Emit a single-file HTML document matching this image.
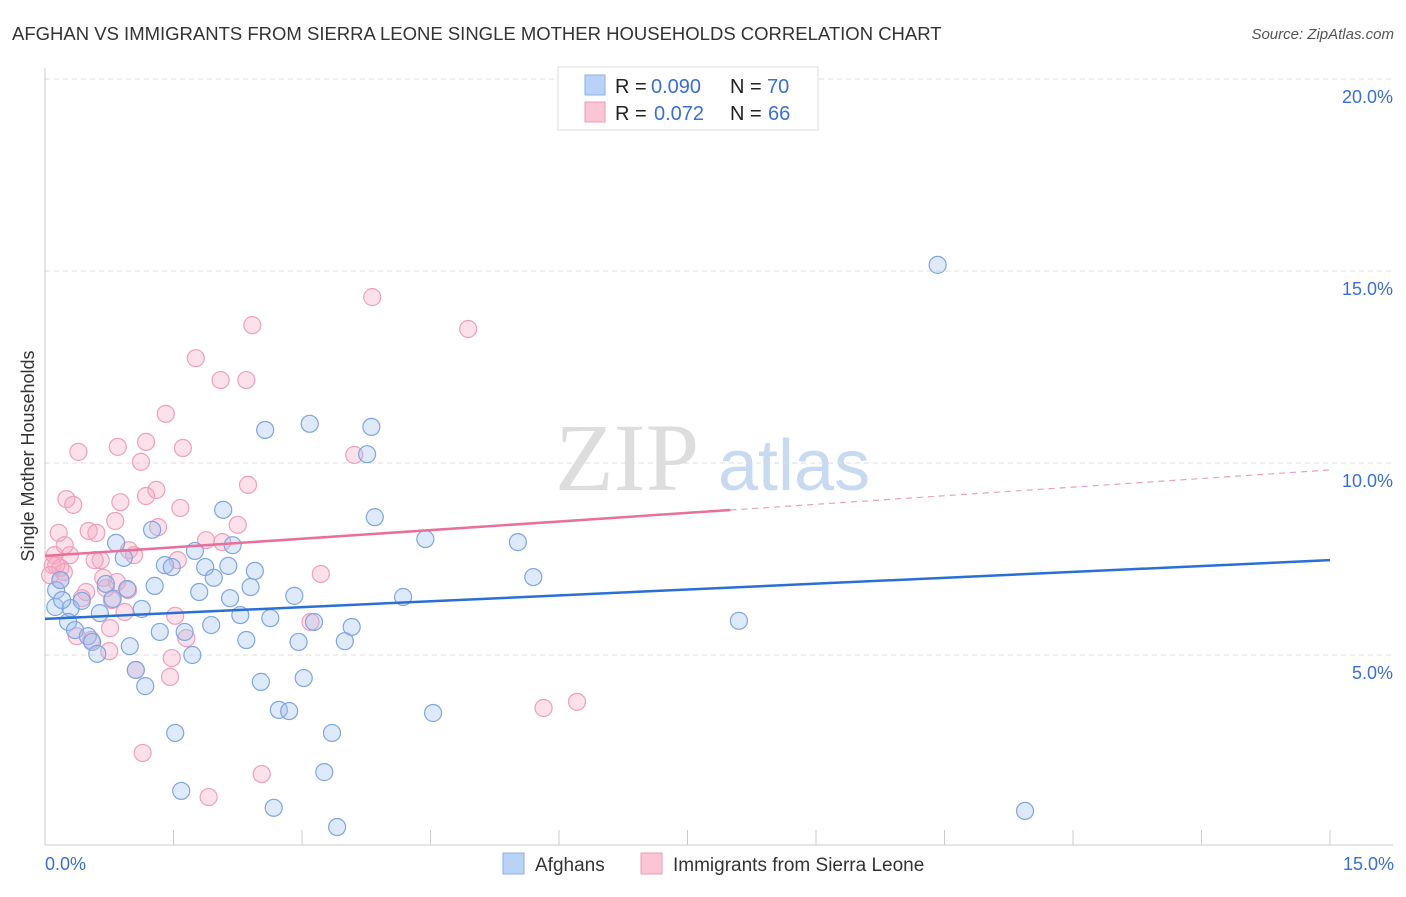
<!DOCTYPE html>
<html><head><meta charset="utf-8"><style>
body{margin:0;background:#fff;font-family:"Liberation Sans",sans-serif;}
svg text{font-family:"Liberation Sans",sans-serif;}
</style></head><body>
<svg id="chart" width="1406" height="892" xmlns="http://www.w3.org/2000/svg">
<text x="12" y="40" font-size="18.5" fill="#333">AFGHAN VS IMMIGRANTS FROM SIERRA LEONE SINGLE MOTHER HOUSEHOLDS CORRELATION CHART</text>
<text x="1394" y="39" font-size="15" fill="#555" text-anchor="end" font-style="italic">Source: ZipAtlas.com</text>
<text x="555" y="490" font-size="96" fill="#ddd" font-family="Liberation Serif" style="font-family:'Liberation Serif',serif">ZIP</text>
<text x="718" y="490" font-size="72" fill="#c8daf0">atlas</text>
<text transform="translate(34,456) rotate(-90)" font-size="18" fill="#333" text-anchor="middle">Single Mother Households</text>
<g id="grid"></g><g id="marks"></g><g id="trends"></g>
<g>
<rect x="558" y="67" width="260" height="63" fill="#fff" stroke="#ddd"/>
<rect x="585" y="75" width="20" height="20" fill="#b9d2f6" stroke="#8ab0e8"/>
<rect x="585" y="102" width="20" height="20" fill="#fac5d4" stroke="#ee9db7"/>
<text x="615" y="93" font-size="20" fill="#222">R =</text>
<text x="651" y="93" font-size="20" fill="#3a6fd0">0.090</text>
<text x="730" y="93" font-size="20" fill="#222">N =</text>
<text x="767" y="93" font-size="20" fill="#3a6fd0">70</text>
<text x="615" y="120" font-size="20" fill="#222">R =</text>
<text x="654" y="120" font-size="20" fill="#3a6fd0">0.072</text>
<text x="730" y="120" font-size="20" fill="#222">N =</text>
<text x="768" y="120" font-size="20" fill="#3a6fd0">66</text>
</g>
<g>
<rect x="503" y="853" width="21" height="21" fill="#b9d2f6" stroke="#8ab0e8"/>
<text x="535" y="871" font-size="19" fill="#333">Afghans</text>
<rect x="641" y="853" width="21" height="21" fill="#fac5d4" stroke="#ee9db7"/>
<text x="673" y="871" font-size="19" fill="#333">Immigrants from Sierra Leone</text>
</g>
<text x="45" y="870" font-size="18" fill="#3a6fd0">0.0%</text>
<text x="1394" y="870" font-size="18" fill="#3a6fd0" text-anchor="end">15.0%</text>
</svg>
<script>
const yTicks=[5,10,15,20];
const yTickLabels=["5.0%","10.0%","15.0%","20.0%"];
const blueX=[10.42,3.09,3.81,2.57,3.76,3.85,2.08,1.25,4.44,5.52,0.83,2.19,1.75,0.92,1.40,1.48,1.87,2.45,2.14,5.70,1.97,1.28,0.96,0.71,1.80,2.40,0.13,0.12,0.30,0.43,0.79,2.16,2.91,4.18,1.13,2.28,0.64,2.63,0.27,1.94,1.34,1.63,0.35,3.58,3.14,8.10,0.50,0.55,2.35,2.96,3.50,0.99,0.61,1.72,1.06,1.17,2.52,3.02,2.73,2.85,4.53,1.52,3.35,3.26,1.59,2.67,3.41,11.44,0.18,0.20];
const blueY=[15.16,11.02,10.94,10.86,10.23,8.59,8.78,8.26,8.02,7.94,7.92,7.86,7.71,7.53,7.34,7.29,7.29,7.19,7.32,7.03,7.01,6.80,6.72,6.85,6.64,6.77,6.69,6.25,6.22,6.41,6.46,6.48,6.54,6.51,6.20,6.04,6.09,5.96,5.86,5.78,5.60,5.60,5.65,5.73,5.86,5.89,5.49,5.34,5.39,5.34,5.36,5.23,5.03,5.00,4.61,4.19,4.30,4.40,3.57,3.54,3.49,2.97,2.97,1.95,1.46,1.02,0.52,0.94,6.95,6.43];
const pinkX=[3.82,2.42,4.94,1.76,2.05,2.35,1.41,1.18,1.61,0.85,0.39,1.12,3.61,2.37,1.30,1.18,0.25,0.88,0.33,1.58,2.25,1.32,0.51,0.60,0.16,1.88,0.82,2.07,0.98,0.29,1.04,0.65,1.55,0.11,0.09,0.18,0.22,3.22,0.68,0.84,0.71,0.97,0.48,0.43,0.78,0.93,1.52,3.10,0.76,1.65,0.37,0.54,0.75,1.48,1.46,1.06,5.82,6.21,1.14,2.53,1.91,0.13,0.23,0.06,0.18,0.58];
const pinkY=[14.32,13.59,13.49,12.73,12.16,12.16,11.28,10.55,10.39,10.42,10.29,10.03,10.21,9.43,9.30,9.14,9.06,8.98,8.91,8.83,8.39,8.33,8.23,8.18,8.18,7.99,8.49,7.94,7.73,7.60,7.60,7.47,7.47,7.60,7.34,7.27,7.16,7.11,7.01,6.90,6.74,6.69,6.64,6.48,6.43,6.12,6.02,5.86,5.70,5.44,5.49,5.39,5.10,4.92,4.43,4.61,3.62,3.78,2.45,1.90,1.30,7.34,7.86,7.08,6.95,7.47];
const blueTrend=[5.94,7.47];
const pinkTrend=[7.58,9.82];
const pinkSolidEnd=8.0;
const NS="http://www.w3.org/2000/svg";
const X0=45,X1=1330,Y0=847,PX=38.4;
const sx=v=>X0+(v/15)*(X1-X0);
const sy=v=>Y0-v*PX;
function mk(t,a,p){const e=document.createElementNS(NS,t);for(const k in a)e.setAttribute(k,a[k]);p.appendChild(e);return e;}
const grid=document.getElementById('grid');
yTicks.forEach((t,i)=>{
 const l=mk('line',{x1:X0,x2:1393,y1:sy(t),y2:sy(t),stroke:'#ddd','stroke-dasharray':'5,4'},grid);
 
 
 const tx=mk('text',{x:1393,y:sy(t)+24,'font-size':18,fill:'#3a6fd0','text-anchor':'end'},grid);
 tx.textContent=yTickLabels[i];
 
 
});
const gl=mk('line',{x1:X0,x2:X0,y1:68,y2:845,stroke:'#ccc'},grid);


const bl=mk('line',{x1:X0,x2:1393,y1:845,y2:845,stroke:'#ccc'},grid);


for(let i=0;i<=10;i++){const x=sx(i*1.5);const t=mk('line',{x1:x,x2:x,y1:830,y2:845,stroke:'#ccc'},grid);
 
 }
const marks=document.getElementById('marks');
pinkX.forEach((v,i)=>{const c=mk('circle',{cx:sx(v),cy:sy(pinkY[i]),r:8.5,fill:'rgba(246,170,196,0.35)',stroke:'#eea0ba','stroke-width':1.2},marks);
 
 });
blueX.forEach((v,i)=>{const c=mk('circle',{cx:sx(v),cy:sy(blueY[i]),r:8.5,fill:'rgba(160,192,240,0.35)',stroke:'#7ea6e2','stroke-width':1.2},marks);
 
 });
const tr=document.getElementById('trends');
const b=mk('line',{x1:sx(0),y1:sy(blueTrend[0]),x2:sx(15),y2:sy(blueTrend[1]),stroke:'#2a6fd6','stroke-width':2.5},tr);


const pe=pinkTrend[0]+(pinkTrend[1]-pinkTrend[0])*pinkSolidEnd/15;
const p1=mk('line',{x1:sx(0),y1:sy(pinkTrend[0]),x2:sx(pinkSolidEnd),y2:sy(pe),stroke:'#e8709a','stroke-width':2.5},tr);


const p2=mk('line',{x1:sx(pinkSolidEnd),y1:sy(pe),x2:sx(15),y2:sy(pinkTrend[1]),stroke:'#e8a0b8','stroke-width':1.2,'stroke-dasharray':'6,5'},tr);


</script>
</body></html>
